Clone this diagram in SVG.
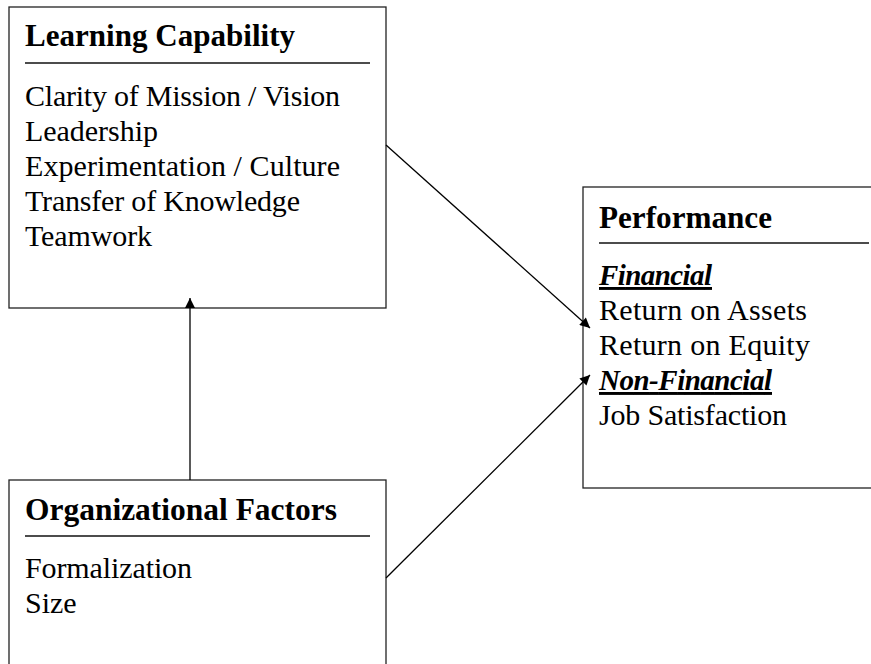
<svg xmlns="http://www.w3.org/2000/svg" width="871" height="664" viewBox="0 0 871 664">
  <style>
    .box { fill: #fff; stroke: #222; stroke-width: 1.3; }
    .rule { stroke: #111; stroke-width: 1.3; }
    text { font-family: "Liberation Serif", "Times New Roman", serif; fill: #000; }
    .title { font-size: 31px; font-weight: bold; }
    .item { font-size: 30px; }
    .sub { font-size: 29px; font-weight: bold; font-style: italic; text-decoration: underline; }
    .edge { stroke: #000; stroke-width: 1.3; fill: none; marker-end: url(#arrow); }
  </style>
  <defs>
    <marker id="arrow" viewBox="0 0 10 10" refX="10" refY="5" markerWidth="13" markerHeight="10" markerUnits="userSpaceOnUse" orient="auto">
      <path d="M0,0 L10,5 L0,10 Z" fill="#000"/>
    </marker>
  </defs>
  <rect width="871" height="664" fill="#fff"/>

  <g id="learning-capability">
    <rect class="box" x="9" y="7" width="377" height="301"/>
    <text class="title" x="25" y="46" textLength="270" lengthAdjust="spacingAndGlyphs">Learning Capability</text>
    <line class="rule" x1="25" y1="63" x2="370" y2="63"/>
    <text class="item" x="25" y="106" textLength="315">Clarity of Mission / Vision</text>
    <text class="item" x="25" y="141" textLength="133">Leadership</text>
    <text class="item" x="25" y="176" textLength="315">Experimentation / Culture</text>
    <text class="item" x="25" y="211" textLength="275">Transfer of Knowledge</text>
    <text class="item" x="25" y="246" textLength="127">Teamwork</text>
  </g>

  <g id="performance">
    <rect class="box" x="583" y="187" width="300" height="301"/>
    <text class="title" x="599" y="228" textLength="173" lengthAdjust="spacingAndGlyphs">Performance</text>
    <line class="rule" x1="599" y1="243" x2="869" y2="243"/>
    <text class="sub" x="599" y="285" textLength="113">Financial</text>
    <text class="item" x="599" y="320" textLength="208">Return on Assets</text>
    <text class="item" x="599" y="355" textLength="211">Return on Equity</text>
    <text class="sub" x="599" y="390" textLength="173">Non-Financial</text>
    <text class="item" x="599" y="425" textLength="188">Job Satisfaction</text>
  </g>

  <g id="organizational-factors">
    <rect class="box" x="9" y="480" width="377" height="200"/>
    <text class="title" x="25" y="520" textLength="312" lengthAdjust="spacingAndGlyphs">Organizational Factors</text>
    <line class="rule" x1="25" y1="536" x2="370" y2="536"/>
    <text class="item" x="25" y="578" textLength="167">Formalization</text>
    <text class="item" x="25" y="613">Size</text>
  </g>

  <g id="connectors">
    <line class="edge" x1="386" y1="145" x2="590" y2="328"/>
    <line class="edge" x1="386" y1="578" x2="590" y2="375"/>
    <line class="edge" x1="190" y1="480" x2="190" y2="298"/>
  </g>
</svg>
